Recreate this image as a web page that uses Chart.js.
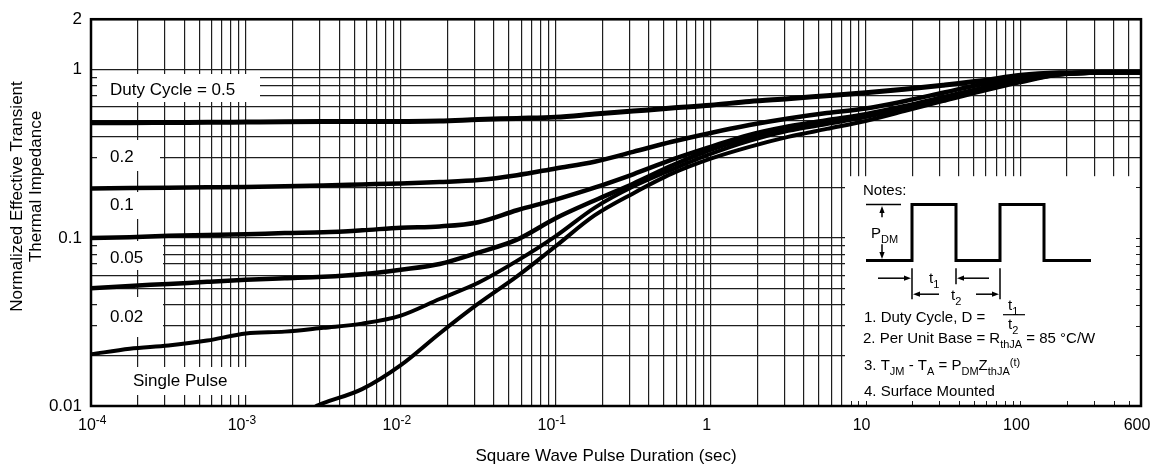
<!DOCTYPE html>
<html>
<head>
<meta charset="utf-8">
<script src="https://cdn.jsdelivr.net/npm/chart.js@4.4.1/dist/chart.umd.min.js"></script>
<style>
  html, body { margin: 0; padding: 0; background: #fff; }
  #wrap { width: 1156px; height: 466px; position: relative; }
</style>
</head>
<body>
<div id="wrap"><canvas id="zthChart"></canvas></div>
<script>
// Normalized transient thermal impedance vs square wave pulse duration
const FONT = '"Liberation Sans", Arial, Helvetica, sans-serif';
const GRID = '#1e1e1e';

// pulse durations (sec), quarter decades
const pulseTimes = [1e-4, 1.78e-4, 3.16e-4, 5.62e-4, 1e-3, 1.78e-3, 3.16e-3, 5.62e-3,
    1e-2, 1.78e-2, 3.16e-2, 5.62e-2, 0.1, 0.178, 0.316, 0.562, 1, 1.78, 3.16, 5.62,
    10, 17.8, 31.6, 56.2, 100, 178, 316, 600];

const zD05 = [0.484, 0.484, 0.486, 0.487, 0.489, 0.491, 0.492, 0.492, 0.493, 0.496, 0.506, 0.514,
    0.523, 0.545, 0.568, 0.592, 0.616, 0.648, 0.673, 0.701, 0.730, 0.766, 0.809, 0.860,
    0.927, 0.959, 0.965, 0.968];
const zD02 = [0.197, 0.198, 0.199, 0.200, 0.201, 0.203, 0.205, 0.208, 0.211, 0.215, 0.221, 0.236,
    0.259, 0.284, 0.325, 0.373, 0.421, 0.469, 0.513, 0.553, 0.588, 0.650, 0.730, 0.820,
    0.890, 0.946, 0.963, 0.968];
const zD01 = [0.100, 0.101, 0.103, 0.104, 0.105, 0.107, 0.108, 0.111, 0.115, 0.117, 0.124, 0.146,
    0.169, 0.199, 0.239, 0.292, 0.348, 0.410, 0.460, 0.502, 0.545, 0.608, 0.687, 0.776,
    0.872, 0.946, 0.963, 0.968];
const zD005 = [0.0502, 0.0518, 0.0532, 0.0548, 0.0563, 0.0575, 0.0587, 0.0608, 0.0647, 0.0700, 0.0818, 0.0977,
    0.131, 0.167, 0.210, 0.269, 0.335, 0.394, 0.451, 0.492, 0.538, 0.600, 0.678, 0.768,
    0.866, 0.942, 0.963, 0.968];
const zD002 = [0.0203, 0.0219, 0.0229, 0.0245, 0.0270, 0.0277, 0.0292, 0.0309, 0.0345, 0.0433, 0.0541, 0.0730,
    0.1025, 0.151, 0.202, 0.255, 0.316, 0.378, 0.433, 0.476, 0.523, 0.589, 0.668, 0.759,
    0.854, 0.939, 0.961, 0.968];

// single pulse starts off the bottom of the axis
const singleTimes = [0.00284, 3.16e-3, 5.62e-3, 1e-2, 1.78e-2, 3.16e-2, 5.62e-2, 0.1, 0.178, 0.316, 0.562,
    1, 1.78, 3.16, 5.62, 10, 17.8, 31.6, 56.2, 100, 178, 316, 600];
const zSingle = [0.0100, 0.0104, 0.0126, 0.0175, 0.0270, 0.0406, 0.0590, 0.0893, 0.136, 0.184, 0.241,
    0.296, 0.348, 0.399, 0.445, 0.496, 0.568, 0.651, 0.745, 0.843, 0.933, 0.959, 0.968];

const curveLabels = ['Duty Cycle = 0.5', '0.2', '0.1', '0.05', '0.02', 'Single Pulse'];

// axis ticks
const xDecades = [1e-4, 1e-3, 1e-2, 1e-1, 1, 10, 100];
const xTickValues = [];
xDecades.forEach(d => { for (let m = 1; m <= 9; m++) if (m * d <= 600) xTickValues.push(m * d); });
xTickValues.push(600);
const yTickValues = [];
[0.01, 0.1].forEach(d => { for (let m = 1; m <= 9; m++) yTickValues.push(m * d); });
yTickValues.push(1, 2);
const yLabelValues = [0.01, 0.1, 1, 2];
const xLabelValues = [1e-4, 1e-3, 1e-2, 1e-1, 1, 10, 100, 600];
const xLabelBase = ['10', '10', '10', '10', '1', '10', '100', '600'];
const xLabelExp = ['-4', '-3', '-2', '-1', '', '', '', ''];

const toPoints = (ts, zs) => ts.map((t, i) => ({ x: t, y: zs[i] }));

const datasets = [
    { label: curveLabels[0], data: toPoints(pulseTimes, zD05), borderWidth: 5 },
    { label: curveLabels[1], data: toPoints(pulseTimes, zD02), borderWidth: 4.5 },
    { label: curveLabels[2], data: toPoints(pulseTimes, zD01), borderWidth: 4.5 },
    { label: curveLabels[3], data: toPoints(pulseTimes, zD005), borderWidth: 4.5 },
    { label: curveLabels[4], data: toPoints(pulseTimes, zD002), borderWidth: 4 },
    { label: curveLabels[5], data: toPoints(singleTimes, zSingle), borderWidth: 4 }
];

// white label patches over the grid (x, y, w, h, text x, baseline)
const labelPatches = [
    { i: 0, box: [97, 74, 163, 28], tx: 110, ty: 94.5 },
    { i: 1, box: [97, 140, 63, 31], tx: 110, ty: 162 },
    { i: 2, box: [97, 192, 63, 27], tx: 110, ty: 209.5 },
    { i: 3, box: [97, 241, 66, 29], tx: 110, ty: 263 },
    { i: 4, box: [97, 297, 66, 40], tx: 110, ty: 321.5 },
    { i: 5, box: [128, 367, 122, 28], tx: 133, ty: 386 }
];

function richText(ctx, x, y, parts, size, small, subDy, supDy) {
    let cx = x;
    parts.forEach(([txt, mode]) => {
        ctx.font = (mode ? small : size) + 'px ' + FONT;
        const dy = mode === 'sub' ? subDy : mode === 'sup' ? supDy : 0;
        ctx.fillText(txt, cx, y + dy);
        cx += ctx.measureText(txt).width;
    });
    return cx - x;
}

function measureRich(ctx, parts, size, small) {
    let w = 0;
    parts.forEach(([txt, mode]) => {
        ctx.font = (mode ? small : size) + 'px ' + FONT;
        w += ctx.measureText(txt).width;
    });
    return w;
}

function arrow(ctx, x1, y1, x2, y2) {
    const a = Math.atan2(y2 - y1, x2 - x1);
    const len = 7, half = 2.6;
    ctx.beginPath();
    ctx.moveTo(x1, y1);
    ctx.lineTo(x2 - Math.cos(a) * len * 0.8, y2 - Math.sin(a) * len * 0.8);
    ctx.stroke();
    ctx.beginPath();
    ctx.moveTo(x2, y2);
    ctx.lineTo(x2 - Math.cos(a) * len - Math.sin(a) * half, y2 - Math.sin(a) * len + Math.cos(a) * half);
    ctx.lineTo(x2 - Math.cos(a) * len + Math.sin(a) * half, y2 - Math.sin(a) * len - Math.cos(a) * half);
    ctx.closePath();
    ctx.fill();
}

function line(ctx, pts) {
    ctx.beginPath();
    pts.forEach(([x, y], k) => k ? ctx.lineTo(x, y) : ctx.moveTo(x, y));
    ctx.stroke();
}

function drawNotes(chart) {
    const ctx = chart.ctx, ca = chart.chartArea;
    const xs = chart.scales.x, ys = chart.scales.y;
    const bx = ca.right - 296, by = ca.top + 157;

    ctx.save();
    ctx.fillStyle = '#fff';
    ctx.fillRect(bx, by, ca.right - bx, ca.bottom - by);

    // grid stubs along the box edges
    ctx.strokeStyle = GRID;
    ctx.lineWidth = 1;
    xTickValues.forEach(v => {
        const px = Math.round(xs.getPixelForValue(v)) + 0.5;
        if (px > bx && px < ca.right) line(ctx, [[px, ca.bottom], [px, ca.bottom - 5]]);
    });
    yTickValues.forEach(v => {
        const py = Math.round(ys.getPixelForValue(v)) + 0.5;
        if (py > by && py < ca.bottom) line(ctx, [[ca.right, py], [ca.right - 5, py]]);
    });

    ctx.fillStyle = '#000';
    ctx.strokeStyle = '#000';
    ctx.textAlign = 'left';
    ctx.textBaseline = 'alphabetic';
    const S = 15, s = 11;

    ctx.font = S + 'px ' + FONT;
    ctx.fillText('Notes:', bx + 18, by + 18.5);

    // pulse train
    const base = by + 84.3, top = by + 28.3;
    ctx.lineWidth = 3;
    ctx.lineJoin = 'miter';
    line(ctx, [[bx + 21, base], [bx + 67, base], [bx + 67, top], [bx + 111, top], [bx + 111, base],
        [bx + 155, base], [bx + 155, top], [bx + 199, top], [bx + 199, base], [bx + 246, base]]);

    // P_DM dimension
    ctx.lineWidth = 1.5;
    line(ctx, [[bx + 21, top], [bx + 56, top]]);
    arrow(ctx, bx + 37, by + 41, bx + 37, top + 1.5);
    arrow(ctx, bx + 37, by + 68, bx + 37, base - 1.5);
    richText(ctx, bx + 26, by + 61.5, [['P', ''], ['DM', 'sub']], S, s, 5, -4);

    // t1, t2 dimensions
    line(ctx, [[bx + 67, by + 92], [bx + 67, by + 123]]);
    line(ctx, [[bx + 111, by + 92], [bx + 111, by + 108]]);
    line(ctx, [[bx + 155, by + 92], [bx + 155, by + 123]]);
    arrow(ctx, bx + 33, by + 102, bx + 66, by + 102);
    arrow(ctx, bx + 144, by + 102, bx + 112, by + 102);
    richText(ctx, bx + 84, by + 107, [['t', ''], ['1', 'sub']], S, s, 5, -4);
    arrow(ctx, bx + 94, by + 118, bx + 68, by + 118);
    arrow(ctx, bx + 131, by + 118, bx + 154, by + 118);
    richText(ctx, bx + 106, by + 124, [['t', ''], ['2', 'sub']], S, s, 5, -4);

    // notes text
    ctx.font = S + 'px ' + FONT;
    ctx.fillText('1. Duty Cycle, D =', bx + 19, by + 146);
    richText(ctx, bx + 163, by + 134, [['t', ''], ['1', 'sub']], S, s, 5, -4);
    ctx.lineWidth = 1.2;
    line(ctx, [[bx + 158, by + 138.5], [bx + 180, by + 138.5]]);
    richText(ctx, bx + 163, by + 152.5, [['t', ''], ['2', 'sub']], S, s, 5, -4);

    richText(ctx, bx + 18, by + 167, [['2. Per Unit Base = R', ''], ['thJA', 'sub'], [' = 85 \u00B0C/W', '']], S, s, 5, -4);
    richText(ctx, bx + 19, by + 193.5, [['3. T', ''], ['JM', 'sub'], [' - T', ''], ['A', 'sub'], [' = P', ''],
        ['DM', 'sub'], ['Z', ''], ['thJA', 'sub'], ['(t)', 'sup']], S, s, 5, -4);
    ctx.font = S + 'px ' + FONT;
    ctx.fillText('4. Surface Mounted', bx + 19, by + 219.5);
    ctx.restore();
}

const decorPlugin = {
    id: 'decor',
    beforeDatasetsDraw(chart) {
        const ctx = chart.ctx;
        ctx.save();
        ctx.font = '17px ' + FONT;
        ctx.textAlign = 'left';
        ctx.textBaseline = 'alphabetic';
        labelPatches.forEach(p => {
            ctx.fillStyle = '#fff';
            ctx.fillRect(p.box[0], p.box[1], p.box[2], p.box[3]);
            ctx.fillStyle = '#000';
            ctx.fillText(curveLabels[p.i], p.tx, p.ty);
        });
        ctx.restore();
        drawNotes(chart);
    },
    afterDatasetsDraw(chart) {
        const ctx = chart.ctx, ca = chart.chartArea, xs = chart.scales.x;
        ctx.save();
        // plot frame
        ctx.strokeStyle = '#000';
        ctx.lineWidth = 2.5;
        ctx.strokeRect(ca.left, ca.top, ca.right - ca.left, ca.bottom - ca.top);

        // x tick labels with superscript exponents
        ctx.fillStyle = '#000';
        ctx.textAlign = 'left';
        ctx.textBaseline = 'alphabetic';
        xLabelValues.forEach((v, i) => {
            const parts = [[xLabelBase[i], ''], [xLabelExp[i], 'sup']];
            const w = measureRich(ctx, parts, 16, 12);
            let left = xs.getPixelForValue(v) - 4 - w / 2;
            left = Math.max(left, 78);
            richText(ctx, left, ca.bottom + 23.5, parts, 16, 12, 0, -6);
        });

        // axis titles
        ctx.font = '17px ' + FONT;
        ctx.textAlign = 'center';
        ctx.fillText('Square Wave Pulse Duration (sec)', (ca.left + ca.right) / 2 - 10, ca.bottom + 55);
        ctx.translate(22, 196.5);
        ctx.rotate(-Math.PI / 2);
        ctx.fillText('Normalized Effective Transient', 0, 0);
        ctx.rotate(Math.PI / 2);
        ctx.translate(19, -10);
        ctx.rotate(-Math.PI / 2);
        ctx.fillText('Thermal Impedance', 0, 0);
        ctx.restore();
    }
};

const isLabelled = v => yLabelValues.some(l => Math.abs(l - v) / l < 1e-6);

new Chart(document.getElementById('zthChart'), {
    type: 'line',
    data: { datasets: datasets },
    options: {
        responsive: true,
        maintainAspectRatio: false,
        animation: false,
        layout: { padding: { top: 17, right: 15, left: 0, bottom: 0 } },
        plugins: {
            legend: { display: false },
            tooltip: { enabled: false }
        },
        elements: {
            point: { radius: 0 },
            line: {
                borderColor: '#000',
                cubicInterpolationMode: 'monotone',
                borderCapStyle: 'round',
                borderJoinStyle: 'round'
            }
        },
        scales: {
            x: {
                type: 'logarithmic',
                min: 1e-4,
                max: 600,
                afterBuildTicks: axis => { axis.ticks = xTickValues.map(v => ({ value: v })); },
                afterFit: axis => { axis.height = 60; },
                ticks: { display: false },
                grid: { color: GRID, lineWidth: 1.2, drawTicks: false },
                border: { display: false }
            },
            y: {
                type: 'logarithmic',
                min: 0.01,
                max: 2,
                afterBuildTicks: axis => { axis.ticks = yTickValues.map(v => ({ value: v })); },
                afterFit: axis => { axis.width = 91; },
                ticks: {
                    autoSkip: false,
                    padding: 9,
                    color: '#000',
                    font: { family: FONT, size: 17 },
                    callback: v => isLabelled(v) ? String(v) : ''
                },
                grid: { color: GRID, lineWidth: 1.2, drawTicks: false },
                border: { display: false }
            }
        }
    },
    plugins: [decorPlugin]
});
</script>
</body>
</html>
